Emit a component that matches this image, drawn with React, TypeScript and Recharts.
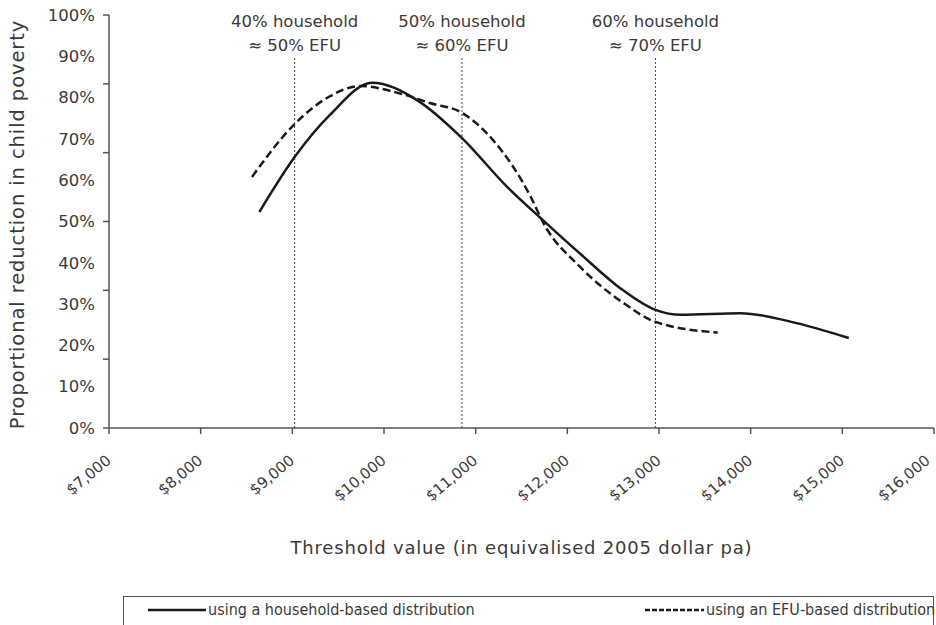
import React from 'react'
import { LineChart, Line, XAxis, YAxis, ReferenceLine, Legend } from 'recharts'

// threshold ($) and proportional reduction
const householdX = [8640, 9025, 9410, 9870, 10360, 10851, 11343, 11730, 12150, 12580, 12961, 13240, 13890, 14500, 15070]
const householdY = [0.523, 0.656, 0.758, 0.836, 0.794, 0.702, 0.584, 0.504, 0.42, 0.338, 0.286, 0.274, 0.278, 0.254, 0.218]

const efuX = [8560, 9025, 9400, 9740, 10175, 10500, 10851, 11190, 11600, 11740, 12140, 12610, 12961, 13640]
const efuY = [0.608, 0.736, 0.802, 0.828, 0.81, 0.787, 0.763, 0.697, 0.56, 0.496, 0.39, 0.303, 0.257, 0.231]

const xTicks = [7000, 8000, 9000, 10000, 11000, 12000, 13000, 14000, 15000, 16000]
// the axis has tick marks every sixth, but labels every 10%
const yTickMarks = [0, 1 / 6, 2 / 6, 3 / 6, 4 / 6, 5 / 6, 1]
const yLabels = [0, 0.1, 0.2, 0.3, 0.4, 0.5, 0.6, 0.7, 0.8, 0.9, 1]

const refX = [9025, 10851, 12961]
const refTop = 0.896
const refLine1 = ['40% household', '50% household', '60% household']
const refLine2 = ['≈ 50% EFU', '≈ 60% EFU', '≈ 70% EFU']

const householdData = householdX.map((x, i) => ({ x, v: householdY[i] }))
const efuData = efuX.map((x, i) => ({ x, v: efuY[i] }))
const yTicks = [...new Set([...yTickMarks, ...yLabels])].sort((a, b) => a - b)

const FONT = '"DejaVu Sans", Verdana, sans-serif'
const TEXT = '#3a3a3a'
const AXIS = '#555'

const money = (v: number) => '$' + v.toLocaleString('en-US')
const near = (v: number, list: number[]) => list.some((t) => Math.abs(t - v) < 1e-6)

function YTick({ x, y, payload }: any) {
  const v = payload.value
  return (
    <g>
      {near(v, yTickMarks) && <line x1={x - 6} x2={x} y1={y} y2={y} stroke={AXIS} strokeWidth={1.5} />}
      {near(v, yLabels) && (
        <text x={x - 14} y={y} dy="0.35em" textAnchor="end" fill={TEXT} fontSize={16.5} fontFamily={FONT}>
          {Math.round(v * 100)}%
        </text>
      )}
    </g>
  )
}

function XTick({ x, y, payload }: any) {
  // keep the last label inside the picture
  const ax = Math.min(x + 3, 931)
  const ay = y + 28
  return (
    <text
      x={ax}
      y={ay}
      transform={`rotate(-40, ${ax}, ${ay})`}
      textAnchor="end"
      fill={TEXT}
      fontSize={15}
      fontFamily={FONT}
    >
      {money(payload.value)}
    </text>
  )
}

function RefLabel({ viewBox, i }: any) {
  const cx = viewBox.x
  const top = viewBox.y
  return (
    <g fill={TEXT} fontSize={16.5} fontFamily={FONT} textAnchor="middle">
      <text x={cx} y={top - 31}>{refLine1[i]}</text>
      <text x={cx} y={top - 7}>{refLine2[i]}</text>
    </g>
  )
}

function YTitle({ viewBox }: any) {
  const cy = viewBox.y + viewBox.height / 2 + 3
  return (
    <text
      x={24}
      y={cy}
      transform={`rotate(-90, 24, ${cy})`}
      textAnchor="middle"
      fill={TEXT}
      fontSize={19.5}
      letterSpacing={0.9}
      fontFamily={FONT}
    >
      Proportional reduction in child poverty
    </text>
  )
}

function XTitle({ viewBox }: any) {
  return (
    <text
      x={viewBox.x + viewBox.width / 2}
      y={554}
      textAnchor="middle"
      fill={TEXT}
      fontSize={18}
      letterSpacing={0.8}
      fontFamily={FONT}
    >
      Threshold value (in equivalised 2005 dollar pa)
    </text>
  )
}

function LegendBox() {
  return (
    <div
      style={{
        position: 'relative',
        width: 811,
        height: 40,
        border: `1.5px solid ${AXIS}`,
        boxSizing: 'border-box',
        fontFamily: '"DejaVu Sans Condensed", "DejaVu Sans", sans-serif',
        fontSize: 16,
        color: TEXT,
        whiteSpace: 'nowrap',
      }}
    >
      <svg width={60} height={10} style={{ position: 'absolute', left: 24, top: 8 }}>
        <line x1={0} x2={58} y1={5} y2={5} stroke="#1a1a1a" strokeWidth={2.5} />
      </svg>
      <span style={{ position: 'absolute', left: 84, top: 3 }}>using a household-based distribution</span>
      <svg width={60} height={10} style={{ position: 'absolute', left: 521, top: 8 }}>
        <line x1={0} x2={59} y1={5} y2={5} stroke="#1a1a1a" strokeWidth={2.5} strokeDasharray="5 2" />
      </svg>
      <span style={{ position: 'absolute', left: 582, top: 3 }}>using an EFU-based distribution</span>
    </div>
  )
}

export default function App() {
  return (
    <div style={{ position: 'absolute', left: 0, top: 0, width: 936, height: 625, overflow: 'hidden', background: '#fff' }}>
      <LineChart width={936} height={625} margin={{ top: 15, right: 2, left: 40, bottom: 77 }}>
        <XAxis
          dataKey="x"
          type="number"
          domain={[7000, 16000]}
          ticks={xTicks}
          interval={0}
          height={120}
          tickSize={6}
          tickMargin={0}
          stroke={AXIS}
          strokeWidth={1.5}
          tick={<XTick />}
          label={<XTitle />}
        />
        <YAxis
          domain={[0, 1]}
          ticks={yTicks}
          interval={0}
          width={69}
          tickLine={false}
          tickSize={0}
          tickMargin={0}
          stroke={AXIS}
          strokeWidth={1.5}
          tick={<YTick />}
          label={<YTitle />}
        />
        {refX.map((x, i) => (
          <ReferenceLine
            key={x}
            segment={[{ x, y: 0 }, { x, y: refTop }]}
            stroke="#444"
            strokeWidth={1}
            strokeDasharray="2 2"
            label={<RefLabel i={i} />}
          />
        ))}
        <Line
          data={efuData}
          dataKey="v"
          type="monotone"
          stroke="#1a1a1a"
          strokeWidth={2.5}
          strokeDasharray="8 4"
          dot={false}
          isAnimationActive={false}
        />
        <Line
          data={householdData}
          dataKey="v"
          type="monotone"
          stroke="#1a1a1a"
          strokeWidth={2.5}
          dot={false}
          isAnimationActive={false}
        />
        <Legend
          layout="horizontal"
          verticalAlign="middle"
          wrapperStyle={{ left: 123, top: 596, width: 811, height: 40 }}
          content={() => <LegendBox />}
        />
      </LineChart>
    </div>
  )
}
